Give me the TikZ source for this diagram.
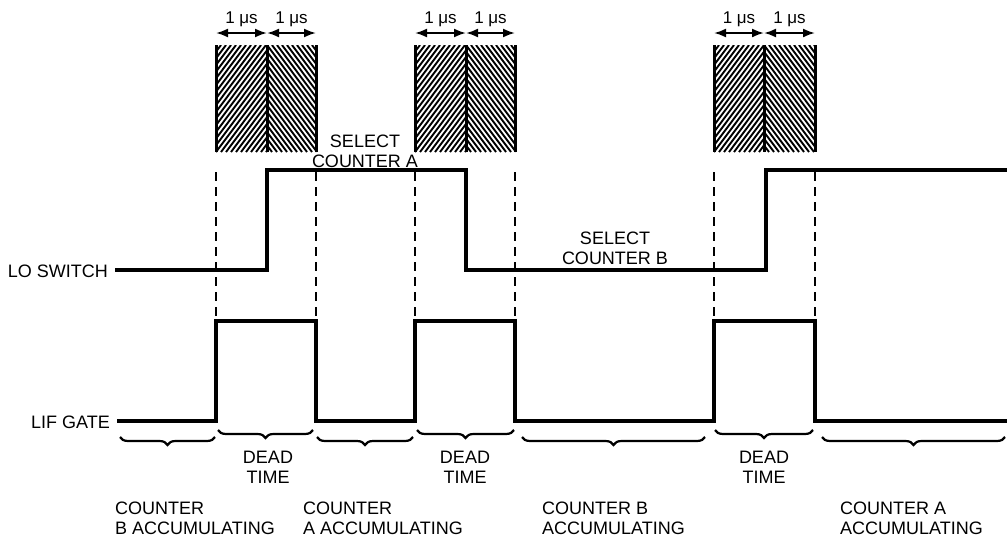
\documentclass[tikz,border=0pt]{standalone}
\usepackage{fontspec}
\setmainfont{Liberation Sans}
\usetikzlibrary{arrows.meta,decorations.pathreplacing}
\newcommand\hatchblock[3]{%
  \begin{scope}
    \clip (#1,45) rectangle (#2,152);
    \foreach \k in {-100,-95,...,60} \draw[hatch] (#1+\k,152) -- ++(80,-107);
  \end{scope}
  \begin{scope}
    \clip (#2,45) rectangle (#3,152);
    \foreach \k in {-100,-95,...,60} \draw[hatch] (#2+\k,45) -- ++(80,107);
  \end{scope}
  \draw[blockedge] (#1,45) -- (#1,152) (#2,45) -- (#2,152) (#3,45) -- (#3,152);
}
\begin{document}
\begin{tikzpicture}[x=1pt,y=-1pt,
  sig/.style={line width=3.3pt, line join=miter},
  guide/.style={line width=1.6pt, dash pattern=on 9pt off 6pt},
  lbl/.style={font=\fontsize{18}{20}\selectfont, inner sep=0pt, align=center},
  small/.style={font=\fontsize{17}{20}\selectfont, inner sep=0pt, anchor=base},
  brc/.style={decorate, decoration={brace, amplitude=8pt}, line width=2.2pt},
  dim/.style={{Latex[length=12pt,width=9pt]}-{Latex[length=12pt,width=9pt]}, line width=2pt},
  blockedge/.style={line width=3pt},
  hatch/.style={line width=1.9pt}
]
\useasboundingbox (0,0) rectangle (1007,539);

% hatched dead-time blocks
\hatchblock{216}{267}{316}
\hatchblock{415}{466}{515}
\hatchblock{714}{764}{815}

% 1 us dimensions
\foreach \a/\m/\b in {216/267/316, 415/466/515, 714/764/815}{
  \coordinate (l\a) at (\a,33);
  \coordinate (m\a) at (\m,33);
  \coordinate (r\a) at (\b,33);
  \draw[dim] (l\a) -- (m\a);
  \draw[dim] (m\a) -- (r\a);
  \node[small] (u1\a) at ({(\a+\m)/2},23) {1 μs};
  \node[small] (u2\a) at ({(\m+\b)/2},23) {1 μs};
}

% signal labels
\node[lbl, anchor=east] (lo) at (108,271) {LO SWITCH};
\node[lbl, anchor=east] (lif) at (110,422) {LIF GATE};

% dashed guides
\foreach \x in {216,316,415,515,714,815}{
  \coordinate (gt\x) at (\x,172);
  \coordinate (gb\x) at (\x,321);
  \draw[guide] (gt\x) -- (gb\x);
}

% LO SWITCH waveform
\coordinate (loend) at (1007,170);
\draw[sig] (115,270) -- (267,270) -- (267,170) -- (466,170) -- (466,270)
  -- (766,270) -- (766,170) -- (loend);

% LIF GATE waveform
\coordinate (lifend) at (1007,421);
\draw[sig] (117,421) -- (216,421) -- (216,321) -- (316,321) -- (316,421)
  -- (415,421) -- (415,321) -- (515,321) -- (515,421)
  -- (714,421) -- (714,321) -- (815,321) -- (815,421) -- (lifend);

% select labels
\node[lbl] (sela) at (365,151) {SELECT\\COUNTER A};
\node[lbl] (selb) at (615,248) {SELECT\\COUNTER B};

% braces
\draw[brc] (215,437) -- (120,437);
\draw[brc] (313,430) -- (218,430);
\draw[brc] (413,437) -- (317,437);
\draw[brc] (514,430) -- (417,430);
\draw[brc] (705,437) -- (522,437);
\draw[brc] (813,430) -- (715,430);
\draw[brc] (1005,437) -- (822,437);

% dead time labels
\node[lbl] (d1) at (268,467) {DEAD\\TIME};
\node[lbl] (d2) at (465,467) {DEAD\\TIME};
\node[lbl] (d3) at (764,467) {DEAD\\TIME};

% accumulating labels
\node[lbl, anchor=west, align=left] (c1) at (115,518) {COUNTER\\B ACCUMULATING};
\node[lbl, anchor=west, align=left] (c2) at (303,518) {COUNTER\\A ACCUMULATING};
\node[lbl, anchor=west, align=left] (c3) at (542,518) {COUNTER B\\ACCUMULATING};
\node[lbl, anchor=west, align=left] (c4) at (840,518) {COUNTER A\\ACCUMULATING};
\end{tikzpicture}
\end{document}
